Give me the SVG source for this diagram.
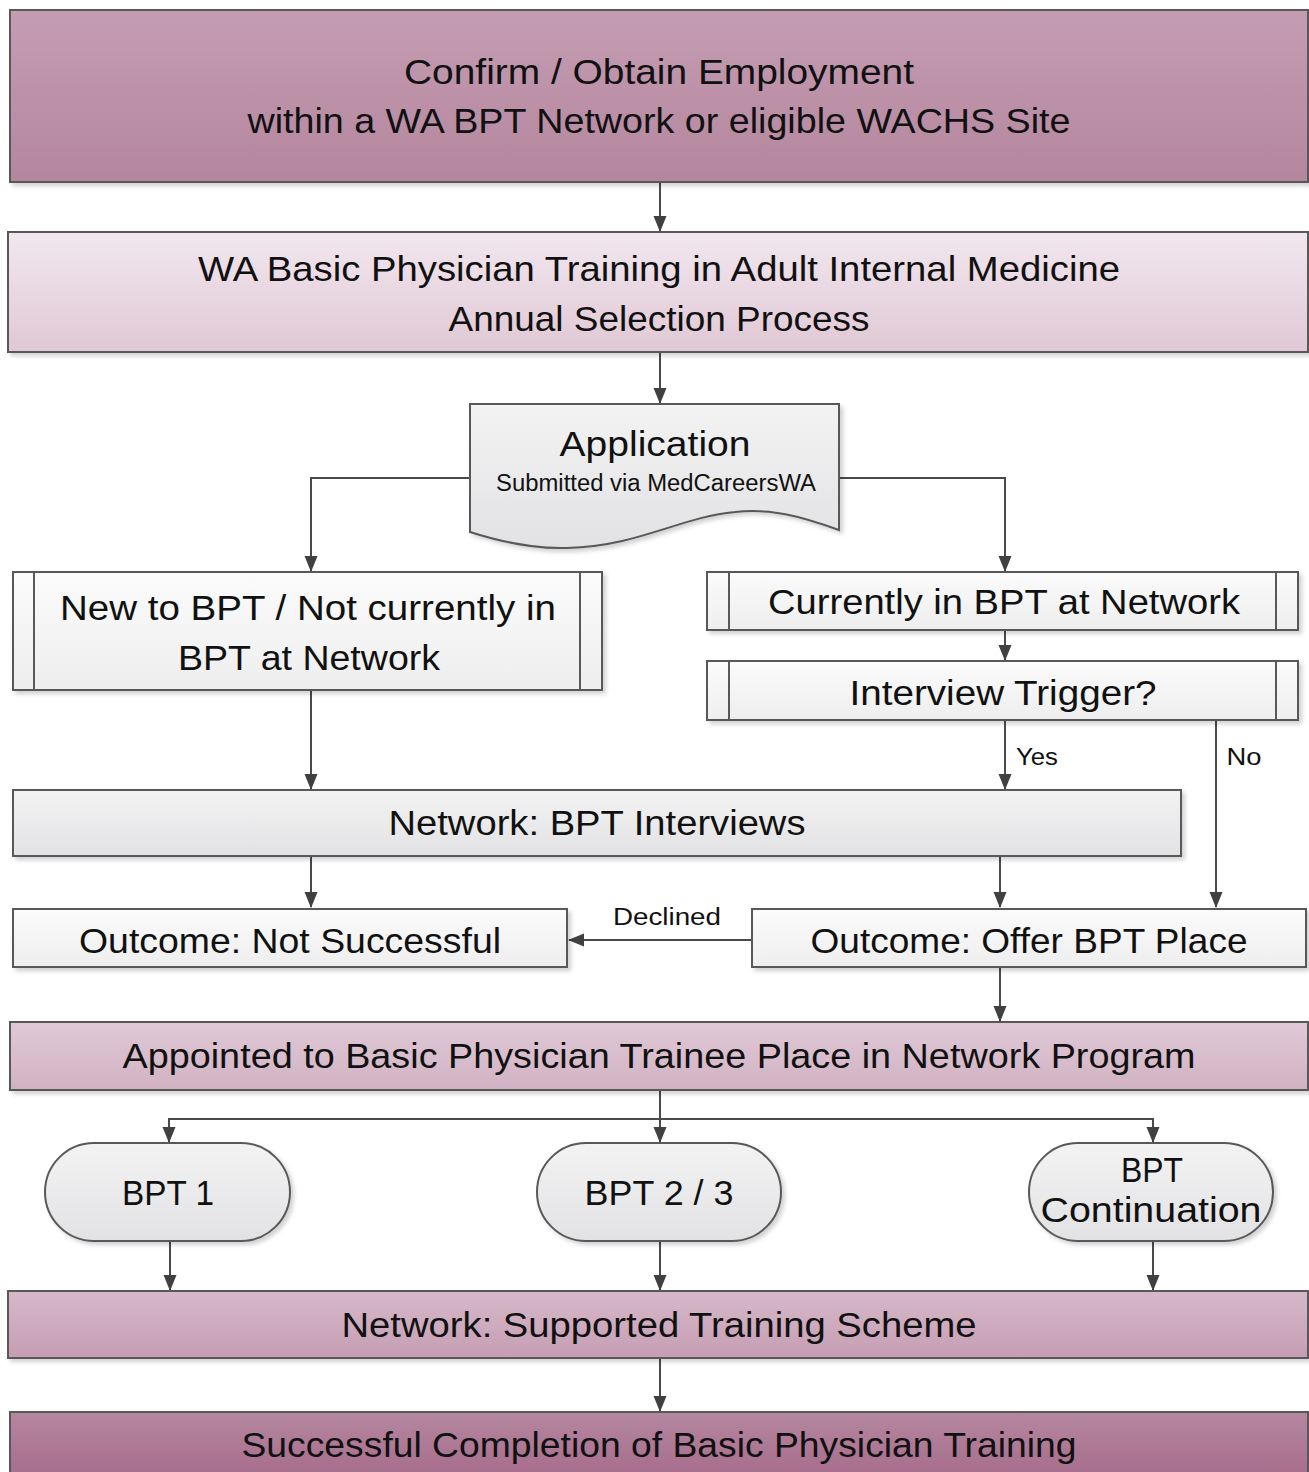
<svg xmlns="http://www.w3.org/2000/svg" width="1309" height="1472" viewBox="0 0 1309 1472">
<defs>
<linearGradient id="gTop" x1="0" y1="0" x2="0" y2="1"><stop offset="0" stop-color="#c59db3"/><stop offset="1" stop-color="#b4869e"/></linearGradient>
<linearGradient id="gLight" x1="0" y1="0" x2="0" y2="1"><stop offset="0" stop-color="#f2e7ee"/><stop offset="1" stop-color="#e0c8d5"/></linearGradient>
<linearGradient id="gMid" x1="0" y1="0" x2="0" y2="1"><stop offset="0" stop-color="#e0c9d6"/><stop offset="1" stop-color="#d1b2c3"/></linearGradient>
<linearGradient id="gMid2" x1="0" y1="0" x2="0" y2="1"><stop offset="0" stop-color="#d6b9c9"/><stop offset="1" stop-color="#c69db3"/></linearGradient>
<linearGradient id="gDark" x1="0" y1="0" x2="0" y2="1"><stop offset="0" stop-color="#b5879f"/><stop offset="1" stop-color="#a56a8a"/></linearGradient>
<linearGradient id="gGray" x1="0" y1="0" x2="0" y2="1"><stop offset="0" stop-color="#f3f3f4"/><stop offset="1" stop-color="#e2e2e4"/></linearGradient>
<linearGradient id="gPale" x1="0" y1="0" x2="0" y2="1"><stop offset="0" stop-color="#fbfbfb"/><stop offset="1" stop-color="#eeeeee"/></linearGradient>
<filter id="sh" x="-5%" y="-5%" width="110%" height="120%"><feDropShadow dx="3" dy="3" stdDeviation="2" flood-color="#000" flood-opacity="0.18"/></filter>
<marker id="ah" viewBox="0 0 16 16" refX="15" refY="8" markerWidth="16" markerHeight="16" markerUnits="userSpaceOnUse" orient="auto"><path d="M0,1.5 L16,8 L0,14.5 Z" fill="#404040"/></marker>
</defs>
<style>
.box{stroke:#595959;stroke-width:2;filter:url(#sh)}
.in{stroke:#595959;stroke-width:2;fill:none}
.t{font-family:"Liberation Sans",Arial,sans-serif;font-size:35px;fill:#111;text-anchor:middle}
.s{font-family:"Liberation Sans",Arial,sans-serif;font-size:23px;fill:#111;text-anchor:middle}
.c{stroke:#4a4a4a;stroke-width:2;fill:none}
.ca{stroke:#4a4a4a;stroke-width:2;fill:none;marker-end:url(#ah)}
</style>
<rect width="1309" height="1472" fill="#fff"/>

<g id="connectors">
<path class="ca" d="M660,182 V231"/>
<path class="ca" d="M660,352 V403"/>
<path class="ca" d="M470,478 H311 V571"/>
<path class="ca" d="M839,478 H1005 V571"/>
<path class="ca" d="M1005,630 V660"/>
<path class="ca" d="M1005,720 V789"/>
<path class="ca" d="M1216,720 V907"/>
<path class="ca" d="M311,690 V789"/>
<path class="ca" d="M311,856 V907"/>
<path class="ca" d="M1000,856 V907"/>
<path class="ca" d="M752,940 H569"/>
<path class="ca" d="M1000,967 V1021"/>
<path class="c" d="M660,1090 V1119"/>
<path class="ca" d="M660,1119 V1142"/>
<path class="ca" d="M660,1119 H169 V1142"/>
<path class="ca" d="M660,1119 H1153 V1142"/>
<path class="ca" d="M170,1241 V1290"/>
<path class="ca" d="M660,1241 V1290"/>
<path class="ca" d="M1153,1241 V1290"/>
<path class="ca" d="M660,1358 V1411"/>
<text class="s" x="1037" y="765" textLength="42" lengthAdjust="spacingAndGlyphs">Yes</text>
<text class="s" x="1244" y="765" textLength="35" lengthAdjust="spacingAndGlyphs">No</text>
<text class="s" x="667" y="925" textLength="108" lengthAdjust="spacingAndGlyphs">Declined</text>
</g>

<g id="employment">
<rect class="box" x="10" y="10" width="1298" height="172" fill="url(#gTop)"/>
<text class="t" x="659" y="84" textLength="510" lengthAdjust="spacingAndGlyphs">Confirm / Obtain Employment</text>
<text class="t" x="659" y="133" textLength="823" lengthAdjust="spacingAndGlyphs">within a WA BPT Network or eligible WACHS Site</text>
</g>

<g id="selection">
<rect class="box" x="8" y="232" width="1300" height="120" fill="url(#gLight)"/>
<text class="t" x="659" y="281" textLength="922" lengthAdjust="spacingAndGlyphs">WA Basic Physician Training in Adult Internal Medicine</text>
<text class="t" x="659" y="331" textLength="421" lengthAdjust="spacingAndGlyphs">Annual Selection Process</text>
</g>

<g id="application">
<path class="box" d="M470,404 H839 V530 C800,516 770,508 735,512 C680,517 640,546 567,548 C530,549 495,540 470,532 Z" fill="url(#gGray)"/>
<text class="t" x="655" y="456" textLength="191" lengthAdjust="spacingAndGlyphs">Application</text>
<text class="s" x="656" y="491" textLength="320" lengthAdjust="spacingAndGlyphs">Submitted via MedCareersWA</text>
</g>

<g id="new-to-bpt">
<rect class="box" x="13" y="572" width="589" height="118" fill="url(#gPale)"/>
<path class="in" d="M34,572 V690 M580,572 V690"/>
<text class="t" x="308" y="620" textLength="496" lengthAdjust="spacingAndGlyphs">New to BPT / Not currently in</text>
<text class="t" x="309" y="670" textLength="262" lengthAdjust="spacingAndGlyphs">BPT at Network</text>
</g>

<g id="currently-in-bpt">
<rect class="box" x="707" y="572" width="591" height="58" fill="url(#gPale)"/>
<path class="in" d="M729,572 V630 M1276,572 V630"/>
<text class="t" x="1004" y="614" textLength="472" lengthAdjust="spacingAndGlyphs">Currently in BPT at Network</text>
</g>

<g id="interview-trigger">
<rect class="box" x="707" y="661" width="591" height="59" fill="url(#gPale)"/>
<path class="in" d="M729,661 V720 M1276,661 V720"/>
<text class="t" x="1003" y="705" textLength="307" lengthAdjust="spacingAndGlyphs">Interview Trigger?</text>
</g>

<g id="interviews">
<rect class="box" x="13" y="790" width="1168" height="66" fill="url(#gGray)"/>
<text class="t" x="597" y="835" textLength="417" lengthAdjust="spacingAndGlyphs">Network: BPT Interviews</text>
</g>

<g id="not-successful">
<rect class="box" x="13" y="909" width="554" height="58" fill="url(#gPale)"/>
<text class="t" x="290" y="953" textLength="422" lengthAdjust="spacingAndGlyphs">Outcome: Not Successful</text>
</g>

<g id="offer-place">
<rect class="box" x="752" y="909" width="554" height="58" fill="url(#gPale)"/>
<text class="t" x="1029" y="953" textLength="437" lengthAdjust="spacingAndGlyphs">Outcome: Offer BPT Place</text>
</g>

<g id="appointed">
<rect class="box" x="10" y="1022" width="1298" height="68" fill="url(#gMid)"/>
<text class="t" x="659" y="1068" textLength="1073" lengthAdjust="spacingAndGlyphs">Appointed to Basic Physician Trainee Place in Network Program</text>
</g>

<g id="bpt1">
<rect class="box" x="45" y="1143" width="245" height="98" rx="49" fill="url(#gGray)"/>
<text class="t" x="168" y="1205" textLength="92" lengthAdjust="spacingAndGlyphs">BPT 1</text>
</g>

<g id="bpt23">
<rect class="box" x="537" y="1143" width="244" height="98" rx="49" fill="url(#gGray)"/>
<text class="t" x="659" y="1205" textLength="149" lengthAdjust="spacingAndGlyphs">BPT 2 / 3</text>
</g>

<g id="bpt-continuation">
<rect class="box" x="1029" y="1143" width="244" height="98" rx="49" fill="url(#gGray)"/>
<text class="t" x="1152" y="1182" textLength="62" lengthAdjust="spacingAndGlyphs">BPT</text>
<text class="t" x="1151" y="1222" textLength="221" lengthAdjust="spacingAndGlyphs">Continuation</text>
</g>

<g id="supported-scheme">
<rect class="box" x="8" y="1291" width="1300" height="67" fill="url(#gMid2)"/>
<text class="t" x="659" y="1337" textLength="635" lengthAdjust="spacingAndGlyphs">Network: Supported Training Scheme</text>
</g>

<g id="completion">
<rect class="box" x="10" y="1412" width="1298" height="70" fill="url(#gDark)"/>
<text class="t" x="659" y="1457" textLength="835" lengthAdjust="spacingAndGlyphs">Successful Completion of Basic Physician Training</text>
</g>
</svg>
